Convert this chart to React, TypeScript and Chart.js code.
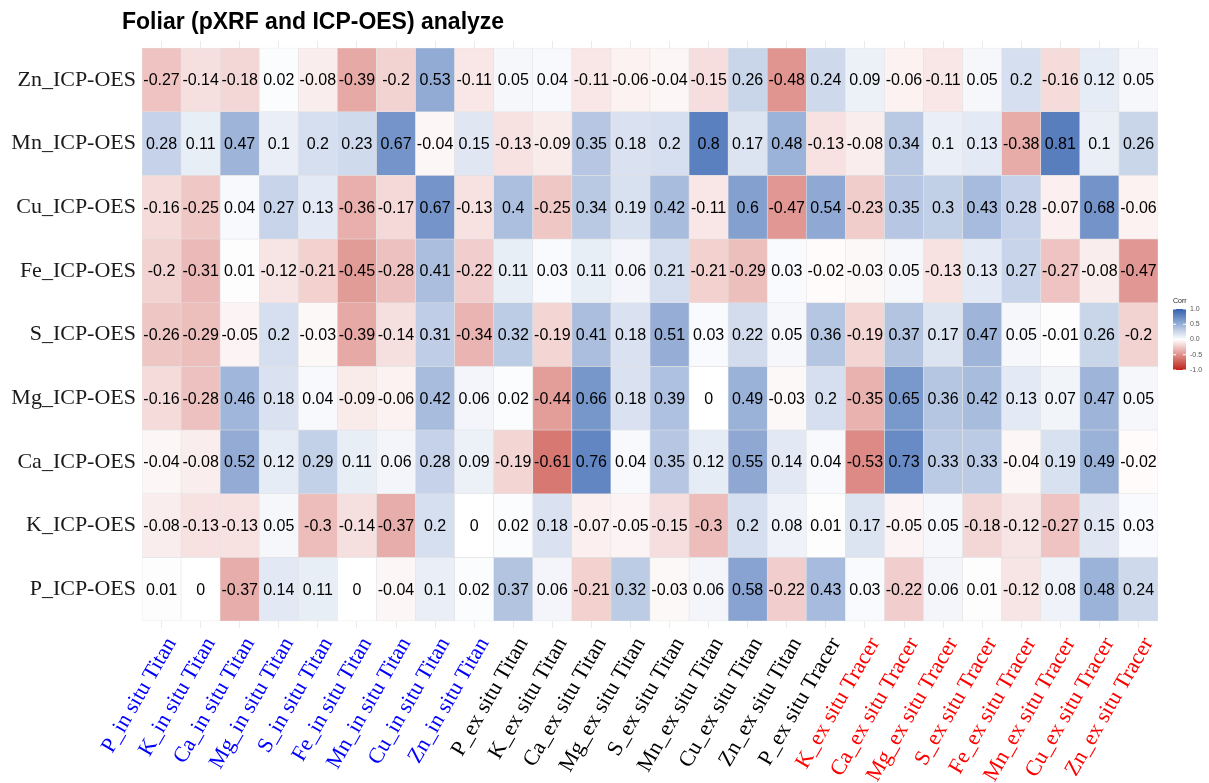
import { useEffect, useRef } from 'react';
import { Chart, registerables } from 'chart.js';

Chart.register(...registerables);

// ---------- data ----------
const chartTitle = 'Foliar (pXRF and ICP-OES) analyze';

const xLabels = [
  'P_in situ Titan', 'K_in situ Titan', 'Ca_in situ Titan', 'Mg_in situ Titan', 'S_in situ Titan',
  'Fe_in situ Titan', 'Mn_in situ Titan', 'Cu_in situ Titan', 'Zn_in situ Titan',
  'P_ex situ Titan', 'K_ex situ Titan', 'Ca_ex situ Titan', 'Mg_ex situ Titan', 'S_ex situ Titan',
  'Mn_ex situ Titan', 'Cu_ex situ Titan', 'Zn_ex situ Titan', 'P_ex situ Tracer',
  'K_ex situ Tracer', 'Ca_ex situ Tracer', 'Mg_ex situ Tracer', 'S_ex situ Tracer',
  'Fe_ex situ Tracer', 'Mn_ex situ Tracer', 'Cu_ex situ Tracer', 'Zn_ex situ Tracer',
];

// group of each column (used for label colour)
const xGroups = [
  'in', 'in', 'in', 'in', 'in', 'in', 'in', 'in', 'in',
  'ex', 'ex', 'ex', 'ex', 'ex', 'ex', 'ex', 'ex', 'ex',
  'tracer', 'tracer', 'tracer', 'tracer', 'tracer', 'tracer', 'tracer', 'tracer',
];

// rows, top to bottom
const yLabels = [
  'Zn_ICP-OES', 'Mn_ICP-OES', 'Cu_ICP-OES', 'Fe_ICP-OES', 'S_ICP-OES',
  'Mg_ICP-OES', 'Ca_ICP-OES', 'K_ICP-OES', 'P_ICP-OES',
];

const znICP = [-0.27, -0.14, -0.18, 0.02, -0.08, -0.39, -0.2, 0.53, -0.11, 0.05, 0.04, -0.11, -0.06, -0.04, -0.15, 0.26, -0.48, 0.24, 0.09, -0.06, -0.11, 0.05, 0.2, -0.16, 0.12, 0.05];
const mnICP = [0.28, 0.11, 0.47, 0.1, 0.2, 0.23, 0.67, -0.04, 0.15, -0.13, -0.09, 0.35, 0.18, 0.2, 0.8, 0.17, 0.48, -0.13, -0.08, 0.34, 0.1, 0.13, -0.38, 0.81, 0.1, 0.26];
const cuICP = [-0.16, -0.25, 0.04, 0.27, 0.13, -0.36, -0.17, 0.67, -0.13, 0.4, -0.25, 0.34, 0.19, 0.42, -0.11, 0.6, -0.47, 0.54, -0.23, 0.35, 0.3, 0.43, 0.28, -0.07, 0.68, -0.06];
const feICP = [-0.2, -0.31, 0.01, -0.12, -0.21, -0.45, -0.28, 0.41, -0.22, 0.11, 0.03, 0.11, 0.06, 0.21, -0.21, -0.29, 0.03, -0.02, -0.03, 0.05, -0.13, 0.13, 0.27, -0.27, -0.08, -0.47];
const sICP = [-0.26, -0.29, -0.05, 0.2, -0.03, -0.39, -0.14, 0.31, -0.34, 0.32, -0.19, 0.41, 0.18, 0.51, 0.03, 0.22, 0.05, 0.36, -0.19, 0.37, 0.17, 0.47, 0.05, -0.01, 0.26, -0.2];
const mgICP = [-0.16, -0.28, 0.46, 0.18, 0.04, -0.09, -0.06, 0.42, 0.06, 0.02, -0.44, 0.66, 0.18, 0.39, 0, 0.49, -0.03, 0.2, -0.35, 0.65, 0.36, 0.42, 0.13, 0.07, 0.47, 0.05];
const caICP = [-0.04, -0.08, 0.52, 0.12, 0.29, 0.11, 0.06, 0.28, 0.09, -0.19, -0.61, 0.76, 0.04, 0.35, 0.12, 0.55, 0.14, 0.04, -0.53, 0.73, 0.33, 0.33, -0.04, 0.19, 0.49, -0.02];
const kICP = [-0.08, -0.13, -0.13, 0.05, -0.3, -0.14, -0.37, 0.2, 0, 0.02, 0.18, -0.07, -0.05, -0.15, -0.3, 0.2, 0.08, 0.01, 0.17, -0.05, 0.05, -0.18, -0.12, -0.27, 0.15, 0.03];
const pICP = [0.01, 0, -0.37, 0.14, 0.11, 0, -0.04, 0.1, 0.02, 0.37, 0.06, -0.21, 0.32, -0.03, 0.06, 0.58, -0.22, 0.43, 0.03, -0.22, 0.06, 0.01, -0.12, 0.08, 0.48, 0.24];

const rowValues = [znICP, mnICP, cuICP, feICP, sICP, mgICP, caICP, kICP, pICP];

const legendTitle = 'Corr';
const legendBreaks = [1, 0.5, 0, -0.5, -1];
const legendBreakLabels = ['1.0', '0.5', '0.0', '-0.5', '-1.0'];

// ---------- styles ----------
const HIGH = [49, 96, 175];
const LOW = [191, 34, 26];
const groupColors: Record<string, string> = { in: '#0000FF', ex: '#000000', tracer: '#FF0000' };

function corrColor(v: number): string {
  const c = v >= 0 ? HIGH : LOW;
  const t = Math.min(1, Math.abs(v));
  const ch = c.map((k) => Math.round(255 + (k - 255) * t));
  return `rgb(${ch[0]},${ch[1]},${ch[2]})`;
}

const nRows = yLabels.length;

const cellTextPlugin = {
  id: 'cellText',
  afterDatasetsDraw(chart: any) {
    const ctx = chart.ctx;
    ctx.save();
    ctx.font = '16px "Liberation Sans", Arial, sans-serif';
    ctx.fillStyle = '#000';
    ctx.textAlign = 'center';
    ctx.textBaseline = 'middle';
    chart.data.datasets.forEach((ds: any, di: number) => {
      const meta = chart.getDatasetMeta(di);
      meta.data.forEach((el: any, j: number) => {
        const p = el.getProps(['x', 'y', 'base'], true);
        ctx.fillText(String(ds.values[j]), p.x, (p.y + p.base) / 2 + 1);
      });
    });
    ctx.restore();
  },
};

const titleLegendPlugin = {
  id: 'titleLegend',
  afterDraw(chart: any) {
    const ctx = chart.ctx;
    ctx.save();
    // title
    ctx.font = 'bold 23px "Liberation Sans", Arial, sans-serif';
    ctx.fillStyle = '#000';
    ctx.textAlign = 'left';
    ctx.textBaseline = 'alphabetic';
    ctx.fillText(chartTitle, 122, 29);

    // colour bar legend
    const bx = 1173, bw = 13, by = 309, bh = 61;
    const g = ctx.createLinearGradient(0, by, 0, by + bh);
    for (let i = 0; i <= 20; i++) {
      const v = 1 - i / 10;
      g.addColorStop(i / 20, corrColor(v));
    }
    ctx.fillStyle = g;
    ctx.fillRect(bx, by, bw, bh);
    ctx.font = '7px "Liberation Sans", Arial, sans-serif';
    ctx.fillStyle = '#222';
    ctx.fillText(legendTitle, bx, by - 6);
    ctx.fillStyle = '#555';
    ctx.textBaseline = 'middle';
    legendBreaks.forEach((b, i) => {
      const y = by + ((1 - b) / 2) * bh;
      ctx.strokeStyle = '#fff';
      ctx.lineWidth = 1;
      ctx.beginPath();
      ctx.moveTo(bx, y); ctx.lineTo(bx + 3, y);
      ctx.moveTo(bx + bw - 3, y); ctx.lineTo(bx + bw, y);
      ctx.stroke();
      ctx.fillText(legendBreakLabels[i], bx + bw + 4, y);
    });
    ctx.restore();
  },
};

export default function App() {
  const ref = useRef<HTMLCanvasElement | null>(null);

  useEffect(() => {
    if (!ref.current) return;
    const datasets = rowValues.map((vals, i) => {
      const r = nRows - 1 - i;
      return {
        label: yLabels[i],
        values: vals,
        data: vals.map(() => [r, r + 1]),
        backgroundColor: vals.map(corrColor),
        borderColor: 'rgba(225,225,225,0.9)',
        borderWidth: 0.6,
        borderSkipped: false,
        barPercentage: 1,
        categoryPercentage: 1,
        grouped: false,
      };
    });

    const chart = new Chart(ref.current, {
      type: 'bar',
      data: { labels: xLabels, datasets: datasets as any },
      options: {
        animation: false,
        responsive: true,
        maintainAspectRatio: false,
        layout: { padding: { top: 41, right: 51, left: 0, bottom: 0 } },
        plugins: { legend: { display: false }, tooltip: { enabled: false }, title: { display: false } },
        scales: {
          x: {
            type: 'category',
            offset: true,
            grid: { offset: false, color: '#EBEBEB', drawTicks: false },
            border: { display: false },
            ticks: {
              autoSkip: false,
              minRotation: 60,
              maxRotation: 60,
              padding: 5,
              labelOffset: 10,
              font: { family: '"Liberation Serif", "Times New Roman", serif', size: 22 },
              color: (ctx: any) => groupColors[xGroups[ctx.index]] || '#000',
            },
            afterFit: (scale: any) => { scale.height = 783 - 628; },
          },
          y: {
            type: 'linear',
            min: -0.11,
            max: nRows + 0.11,
            grid: { color: '#EBEBEB', drawTicks: false },
            border: { display: false },
            afterBuildTicks: (scale: any) => {
              scale.ticks = yLabels.map((_, k) => ({ value: k + 0.5 }));
            },
            ticks: {
              padding: 6,
              font: { family: '"Liberation Serif", "Times New Roman", serif', size: 22 },
              color: '#1a1a1a',
              callback: (v: any) => yLabels[nRows - 1 - Math.floor(Number(v))],
            },
            afterFit: (scale: any) => { scale.width = 142; },
          },
        },
      },
      plugins: [cellTextPlugin, titleLegendPlugin],
    });
    return () => chart.destroy();
  }, []);

  return (
    <div style={{ position: 'fixed', left: 0, top: 0, width: 1209, height: 783, background: '#fff' }}>
      <canvas ref={ref} />
    </div>
  );
}
